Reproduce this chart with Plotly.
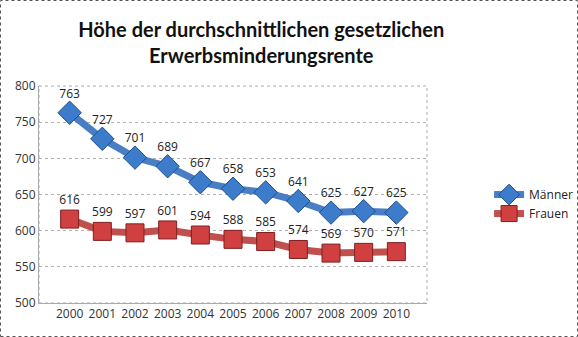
import plotly.graph_objects as go

years = ["2000", "2001", "2002", "2003", "2004", "2005", "2006", "2007", "2008", "2009", "2010"]
maenner = [763, 727, 701, 689, 667, 658, 653, 641, 625, 627, 625]
frauen = [616, 599, 597, 601, 594, 588, 585, 574, 569, 570, 571]
y_ticks = [500, 550, 600, 650, 700, 750, 800]

font_family = "Open Sans, Liberation Sans, sans-serif"

fig = go.Figure()
fig.add_trace(go.Scatter(
    x=years, y=maenner, name="Männer", mode="lines+markers+text",
    line=dict(color="#4A7EC4", width=7),
    marker=dict(symbol="diamond", size=18, color="#3D7CCB", line=dict(color="#1F4E8C", width=1)),
    text=[str(v) for v in maenner], textposition="top center",
    textfont=dict(size=12, color="#222222", family=font_family),
))
fig.add_trace(go.Scatter(
    x=years, y=frauen, name="Frauen", mode="lines+markers+text",
    line=dict(color="#C0504D", width=7),
    marker=dict(symbol="square", size=18, color="#D04040", line=dict(color="#7F1F1F", width=1)),
    text=[str(v) for v in frauen], textposition="top center",
    textfont=dict(size=12, color="#222222", family=font_family),
))

fig.update_layout(
    width=578, height=337,
    margin=dict(l=39, r=151, t=86, b=34, autoexpand=False),
    paper_bgcolor="white", plot_bgcolor="white",
    title=dict(text="<b>Höhe der durchschnittlichen gesetzlichen<br>Erwerbsminderungsrente</b>",
               x=0.452, xanchor="center", y=0.89, yanchor="top",
               font=dict(size=20, color="#111111", family="Lato, Open Sans, sans-serif")),
    font=dict(family=font_family, size=12, color="#333333"),
    showlegend=True,
    legend=dict(x=1.16, y=0.456, xanchor="left", yanchor="middle",
                font=dict(size=12, color="#222222"), bgcolor="rgba(0,0,0,0)",
                tracegroupgap=4, itemwidth=30),
    xaxis=dict(type="category", showgrid=False, showline=True, linecolor="#AAAAAA",
               linewidth=1, ticks="", tickfont=dict(size=12), fixedrange=True,
               automargin=False),
    yaxis=dict(range=[500, 800], tickvals=y_ticks, showgrid=True, gridcolor="#B0B0B0",
               griddash="dot", gridwidth=1, showline=True, linecolor="#AAAAAA",
               ticks="", tickfont=dict(size=12), zeroline=False, automargin=False),
    shapes=[dict(type="rect", xref="paper", yref="paper", x0=0, x1=1, y0=0, y1=1,
                 line=dict(color="#AAAAAA", width=1, dash="dot"), layer="below")],
)
# outer dashed border of the chart
fig.add_shape(type="rect", xref="paper", yref="paper",
              x0=-38.5/388, x1=1 + 150.5/388, y0=-33.5/217, y1=1 + 85.5/217,
              line=dict(color="#555555", width=1, dash="dot"))

fig.write_html("out.html")
